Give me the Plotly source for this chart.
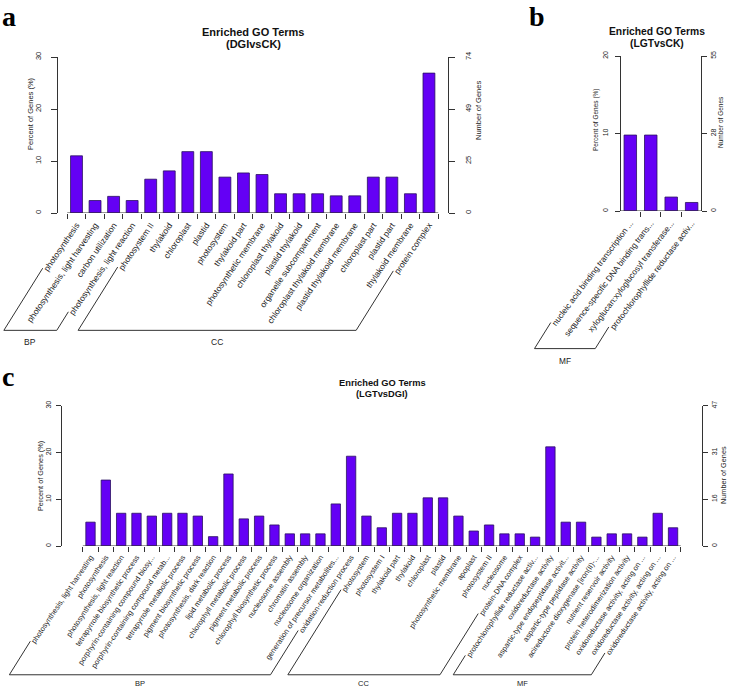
import math
import plotly.graph_objects as go

W, H = 733, 691

# ---------------- data ----------------
a_terms = ["photosynthesis", "photosynthesis, light harvesting", "carbon utilization",
           "photosynthesis, light reaction", "photosystem II", "thylakoid", "chloroplast", "plastid",
           "photosystem", "thylakoid part", "photosynthetic membrane", "chloroplast thylakoid",
           "plastid thylakoid", "organelle subcompartment", "chloroplast thylakoid membrane",
           "plastid thylakoid membrane", "chloroplast part", "plastid part", "thylakoid membrane",
           "protein complex"]
a_pct = [11.0, 2.4, 3.2, 2.4, 6.5, 8.1, 11.8, 11.8, 6.9, 7.7, 7.4, 3.7, 3.7, 3.7, 3.3, 3.3,
         6.9, 6.9, 3.7, 26.9]
a_groups = [("BP", 4), ("CC", 16)]
a_left_ticks = [0, 10, 20, 30]
a_right_ticks = ["0", "25", "49", "74"]

b_terms = ["nucleic acid binding transcription ...", "sequence-specific DNA binding trans...",
           "xyloglucan:xyloglucosyl transferase...", "protochlorophyllide reductase activ..."]
b_pct = [9.8, 9.8, 1.8, 1.1]
b_groups = [("MF", 4)]
b_left_ticks = [0, 10, 20]
b_right_ticks = ["0", "28", "55"]

c_terms = ["photosynthesis, light harvesting", "photosynthesis", "photosynthesis, light reaction",
           "tetrapyrrole biosynthetic process", "porphyrin-containing compound biosy...",
           "porphyrin-containing compound metab...", "tetrapyrrole metabolic process",
           "pigment biosynthetic process", "photosynthesis, dark reaction", "lipid metabolic process",
           "chlorophyll metabolic process", "pigment metabolic process",
           "chlorophyll biosynthetic process", "nucleosome assembly", "chromatin assembly",
           "nucleosome organization", "generation of precursor metabolites...",
           "oxidation-reduction process",
           "photosystem", "photosystem I", "thylakoid part", "thylakoid", "chloroplast", "plastid",
           "photosynthetic membrane", "apoplast", "photosystem II", "nucleosome", "protein-DNA complex",
           "protochlorophyllide reductase activ...", "oxidoreductase activity",
           "aspartic-type endopeptidase activit...", "aspartic-type peptidase activity",
           "acireductone dioxygenase [iron(II)-...", "nutrient reservoir activity",
           "protein heterodimerization activity", "oxidoreductase activity, acting on ...",
           "oxidoreductase activity, acting on ...", "oxidoreductase activity, acting on ..."]
c_pct = [5.1, 14.1, 7.0, 7.0, 6.4, 7.0, 7.0, 6.4, 2.0, 15.4, 5.8, 6.4, 4.5, 2.6, 2.6, 2.6, 9.0, 19.2,
         6.4, 3.9, 7.0, 7.0, 10.3, 10.3, 6.4, 3.2, 4.5, 2.6, 2.6,
         1.9, 21.2, 5.1, 5.1, 1.9, 2.6, 2.6, 1.9, 7.0, 3.9]
c_groups = [("BP", 18), ("CC", 11), ("MF", 10)]
c_left_ticks = [0, 10, 20, 30]
c_right_ticks = ["0", "16", "31", "47"]

titles = [("Enriched GO Terms", "(DGIvsCK)"), ("Enriched GO Terms", "(LGTvsCK)"),
          ("Enriched GO Terms", "(LGTvsDGI)")]
letters = ["a", "b", "c"]

# ---------------- style / layout (pixels) ----------------
SANS = "Liberation Sans, Arial, sans-serif"
SERIF = "Liberation Serif, Times New Roman, serif"
BAR = "#6400F5"
AX = "#333333"
TXT = "#222222"
BANG = 58       # bracket side angle

panels = [
    dict(terms=a_terms, pct=a_pct, groups=a_groups, lt=a_left_ticks, rt=a_right_ticks,
         pl=58, pr=448, c0=76.5, pitch=18.55, py0=213, py1=57, lab=8.5, tk=7.5, yt=7.5, tt=11,
         sl=7, sr=7, tl=6, ang=55.5, pad=10, gpad=12,
         title_x=253, title_y=(32, 44), ylab=(31, 114), rlab=(478, 111), letter=(8.5, 16.5),
         bw=0.64),
    dict(terms=b_terms, pct=b_pct, groups=b_groups, lt=b_left_ticks, rt=b_right_ticks,
         pl=621, pr=701, c0=630.3, pitch=20.45, py0=211, py1=56, lab=8.3, tk=7, yt=6.5, tt=10.3,
         sl=4, sr=1, tl=5, ang=53, pad=15, gpad=12,
         title_x=657, title_y=(31, 43), ylab=(596, 120), rlab=(721, 122), letter=(536.5, 16.5),
         bw=0.61),
    dict(terms=c_terms, pct=c_pct, groups=c_groups, lt=c_left_ticks, rt=c_right_ticks,
         pl=62, pr=702, c0=90.5, pitch=15.33, py0=546, py1=405.7, lab=7.5, tk=7, yt=7.3, tt=9.3,
         sl=2, sr=1, tl=5, ang=56, pad=9, gpad=9,
         title_x=382, title_y=(383, 394), ylab=(40, 476), rlab=(723, 475), letter=(7.5, 376),
         bw=0.61),
]

# Arial / Liberation Sans advance widths (1/1000 em)
AW = {' ': 278, '!': 278, '(': 333, ')': 333, ',': 278, '-': 333, '.': 278, ':': 278, '[': 278,
      ']': 278, '%': 889}
for ch in '0123456789':
    AW[ch] = 556
AW.update(dict(A=667, B=667, C=722, D=722, E=667, F=611, G=778, H=722, I=278, J=500, K=667, L=556,
               M=833, N=722, O=778, P=667, Q=778, R=722, S=667, T=611, U=722, V=667, W=944, X=667,
               Y=667, Z=611, a=556, b=556, c=500, d=556, e=556, f=278, g=556, h=556, i=222, j=222,
               k=500, l=222, m=833, n=556, o=556, p=556, q=556, r=333, s=500, t=278, u=556, v=500,
               w=722, x=500, y=500, z=500))


def text_w(s, size):
    return sum(AW.get(ch, 556) for ch in s) / 1000.0 * size


def px2x(px):
    return px / W


def px2y(py):
    return 1 - py / H


fig = go.Figure()
shapes = []
annotations = []
layout = {}
bcot = 1 / math.tan(math.radians(BANG))

for k, p in enumerate(panels, start=1):
    n = len(p["terms"])
    xs = list(range(n))
    sfx = "" if k == 1 else str(k)
    xa, ya, ya_r = "x" + sfx, "y" + sfx, "y" + str(k + 3)
    r0 = (p["pl"] - p["c0"]) / p["pitch"]
    r1 = (p["pr"] - p["c0"]) / p["pitch"]
    ymax = p["lt"][-1]
    ca, sa = math.cos(math.radians(p["ang"])), math.sin(math.radians(p["ang"]))

    fig.add_trace(go.Bar(x=xs, y=p["pct"], xaxis=xa, yaxis=ya, width=p["bw"],
                         marker=dict(color=BAR, line=dict(color="#2a1060", width=0.8)),
                         showlegend=False, hoverinfo="skip"))
    fig.add_trace(go.Scatter(x=[None], y=[None], xaxis=xa, yaxis=ya_r, showlegend=False,
                             hoverinfo="skip", mode="markers"))

    ydom = [px2y(p["py0"]), px2y(p["py1"])]
    layout["xaxis" + sfx] = dict(
        domain=[px2x(p["pl"]), px2x(p["pr"])], range=[r0, r1], anchor=ya, automargin=False,
        tickmode="array", tickvals=xs, ticktext=p["terms"], tickangle=-p["ang"],
        ticks="outside", ticklen=0, ticklabelstandoff=3,
        tickfont=dict(size=p["lab"], color=TXT, family=SANS),
        showline=False, showgrid=False, zeroline=False, fixedrange=True,
        minor=dict(tickmode="array", tickvals=[i - 0.5 for i in range(n + 1)], ticks="outside",
                   ticklen=5, tickwidth=1, tickcolor=AX, showgrid=False))
    common_y = dict(domain=ydom, range=[0, ymax], tickmode="array", tickvals=p["lt"],
                    ticks="outside", ticklen=p["tl"], tickwidth=1, tickcolor=AX, showline=True,
                    linecolor=AX, linewidth=1, tickangle=-90, showgrid=False, zeroline=False,
                    fixedrange=True, tickfont=dict(size=p["tk"], color=TXT, family=SANS),
                    automargin=False)
    layout["yaxis" + sfx] = dict(common_y, anchor=xa, ticktext=[str(v) for v in p["lt"]],
                                 ticklabelstandoff=p["sl"])
    layout["yaxis" + str(k + 3)] = dict(common_y, anchor=xa, overlaying=ya, side="right",
                                        ticktext=p["rt"], ticklabelstandoff=p["sr"])

    # x axis line between first and last boundary tick
    shapes.append(dict(type="line", xref=xa, yref=ya, x0=-0.5, x1=n - 0.5, y0=0, y1=0,
                       line=dict(color=AX, width=1)))

    # label end points (pixels)
    ppu = (p["pr"] - p["pl"]) / (r1 - r0)
    y_start = p["py0"] + 6
    ends = []
    for i, t in enumerate(p["terms"]):
        xc = p["pl"] + (i - r0) * ppu
        w = text_w(t, p["lab"]) + 3
        ends.append((xc - w * ca, y_start + w * sa))
    base = max(e[1] for e in ends) + p["pad"]

    start = 0
    for name, cnt in p["groups"]:
        e_first = ends[start]
        e_last = ends[start + cnt - 1]
        bl = e_first[0] - (base - e_first[1]) * bcot
        br = e_last[0] - (base - e_last[1]) * bcot
        path = "M {} {} L {} {} L {} {} L {} {}".format(
            px2x(e_first[0]), px2y(e_first[1]), px2x(bl), px2y(base),
            px2x(br), px2y(base), px2x(e_last[0]), px2y(e_last[1]))
        shapes.append(dict(type="path", xref="paper", yref="paper", path=path,
                           line=dict(color=AX, width=1)))
        annotations.append(dict(x=px2x((bl + br) / 2), y=px2y(base + p["gpad"]), xref="paper",
                                yref="paper", text=name, showarrow=False,
                                font=dict(size=p["lab"], color=TXT, family=SANS),
                                xanchor="center", yanchor="middle"))
        start += cnt

    # titles
    for line, ty in zip(titles[k - 1], p["title_y"]):
        annotations.append(dict(x=px2x(p["title_x"]), y=px2y(ty), xref="paper", yref="paper",
                                text="<b>" + line + "</b>", showarrow=False,
                                font=dict(size=p["tt"], color="#111111", family=SANS),
                                xanchor="center", yanchor="middle"))
    annotations.append(dict(x=px2x(p["ylab"][0]), y=px2y(p["ylab"][1]), xref="paper", yref="paper",
                            text="Percent of Genes (%)", textangle=-90, showarrow=False,
                            font=dict(size=p["yt"], color=TXT, family=SANS),
                            xanchor="center", yanchor="middle"))
    annotations.append(dict(x=px2x(p["rlab"][0]), y=px2y(p["rlab"][1]), xref="paper", yref="paper",
                            text="Number of Genes", textangle=-90, showarrow=False,
                            font=dict(size=p["yt"], color=TXT, family=SANS),
                            xanchor="center", yanchor="middle"))
    annotations.append(dict(x=px2x(p["letter"][0]), y=px2y(p["letter"][1]), xref="paper",
                            yref="paper", text="<b>" + letters[k - 1] + "</b>", showarrow=False,
                            font=dict(size=28, color="#000000", family=SERIF),
                            xanchor="center", yanchor="middle", borderpad=0))

fig.update_layout(
    template="none",
    width=W, height=H, margin=dict(l=0, r=0, t=0, b=0, pad=0, autoexpand=False),
    paper_bgcolor="white", plot_bgcolor="white",
    shapes=shapes, annotations=annotations, showlegend=False,
    font=dict(family=SANS, color=TXT),
    **layout)

# the page's default 8px body margin would push the 733x691 figure off the window
fig.write_html("out.html", config={"displayModeBar": False, "staticPlot": True},
               post_script="document.body.style.margin='0px';")
